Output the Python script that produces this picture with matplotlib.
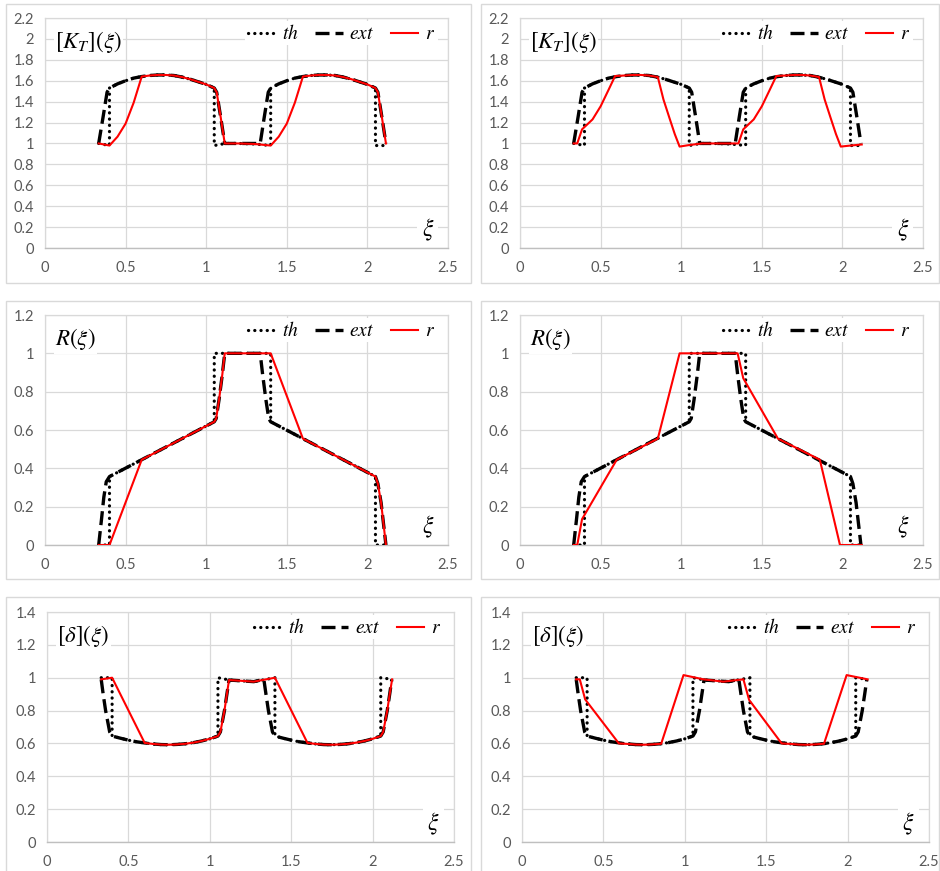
import matplotlib
matplotlib.use('Agg')
import matplotlib.pyplot as plt
from matplotlib.patches import Rectangle
from matplotlib.ticker import MultipleLocator, FuncFormatter

plt.rcParams['font.family'] = ['Lato', 'DejaVu Sans']
plt.rcParams['mathtext.fontset'] = 'stix'

# ---------------- data ----------------
hump1_x = [0.40, 0.45, 0.50, 0.55, 0.60, 0.65, 0.70, 0.75, 0.80, 0.85, 0.90, 0.95, 1.00, 1.05]
hump2_x = [1.40, 1.45, 1.50, 1.55, 1.60, 1.65, 1.70, 1.75, 1.80, 1.85, 1.90, 1.95, 2.00, 2.05]

# [K_T] plateau shape and [delta] valley shape shared by th / ext
kt_hump = [1.53, 1.57, 1.60, 1.625, 1.64, 1.65, 1.655, 1.655, 1.65, 1.635, 1.615, 1.59, 1.565, 1.53]
dl_valley = [0.645, 0.632, 0.62, 0.61, 0.603, 0.597, 0.593, 0.592, 0.594, 0.598, 0.605, 0.615, 0.628, 0.645]

# ---- [K_T](xi)
kt_th_x = [0.333, 0.40] + hump1_x + [1.05, 1.12, 1.20, 1.30, 1.40] + hump2_x + [2.05, 2.12]
kt_th_y = [1.00, 0.98] + kt_hump + [0.98, 1.00, 1.00, 0.995, 0.98] + kt_hump + [0.98, 0.98]

kt_ext_x = [0.333, 0.36, 0.385] + hump1_x + [1.065, 1.09, 1.115, 1.20, 1.30, 1.335, 1.36, 1.385] + hump2_x + [2.065, 2.09, 2.115]
kt_ext_y = [1.00, 1.25, 1.49] + kt_hump + [1.49, 1.25, 1.00, 1.00, 1.00, 1.00, 1.25, 1.49] + kt_hump + [1.49, 1.25, 1.00]

kt_r1_x = [0.333, 0.40, 0.45, 0.50, 0.55, 0.60, 0.65, 0.70, 0.75, 0.80, 0.85, 0.90, 0.95, 1.00, 1.05,
           1.065, 1.09, 1.115, 1.20, 1.30, 1.40, 1.45, 1.50, 1.55, 1.60, 1.65, 1.70, 1.75, 1.80, 1.85,
           1.90, 1.95, 2.00, 2.05, 2.065, 2.09, 2.115]
kt_r1_y = [1.00, 0.98, 1.065, 1.19, 1.39, 1.64, 1.65, 1.655, 1.655, 1.65, 1.635, 1.615, 1.59, 1.565, 1.53,
           1.49, 1.25, 1.00, 1.00, 0.995, 0.98, 1.065, 1.19, 1.39, 1.64, 1.65, 1.655, 1.655, 1.65, 1.635,
           1.615, 1.59, 1.565, 1.53, 1.49, 1.25, 1.00]

kt_r2_x = [0.333, 0.355, 0.385, 0.45, 0.50, 0.55, 0.59, 0.65, 0.70, 0.75, 0.80, 0.855, 0.89, 0.93, 0.96,
           0.99, 1.05, 1.13, 1.20, 1.30, 1.355, 1.385, 1.45, 1.50, 1.55, 1.59, 1.65, 1.70, 1.75, 1.80,
           1.855, 1.89, 1.93, 1.96, 1.99, 2.05, 2.12]
kt_r2_y = [1.00, 1.00, 1.135, 1.23, 1.355, 1.515, 1.645, 1.65, 1.655, 1.655, 1.65, 1.635, 1.42, 1.23, 1.09,
           0.97, 0.985, 1.00, 1.00, 1.00, 1.00, 1.135, 1.23, 1.355, 1.515, 1.645, 1.65, 1.655, 1.655, 1.65,
           1.635, 1.42, 1.23, 1.09, 0.97, 0.98, 0.99]

# ---- R(xi)
R_th_x = [0.333, 0.40, 0.40, 1.05, 1.05, 1.40, 1.40, 2.05, 2.05, 2.12]
R_th_y = [0.0, 0.0, 0.357, 0.643, 1.0, 1.0, 0.643, 0.357, 0.0, 0.0]

R_ext_x = [0.333, 0.35, 0.365, 0.38, 0.40, 1.05, 1.062, 1.08, 1.10, 1.115, 1.335, 1.35, 1.37, 1.388, 1.40,
           2.05, 2.065, 2.085, 2.115]
R_ext_y = [0.0, 0.13, 0.25, 0.33, 0.357, 0.643, 0.66, 0.76, 0.89, 1.0, 1.0, 0.89, 0.76, 0.66, 0.643,
           0.357, 0.32, 0.22, 0.0]

R_r1_x = [0.333, 0.40, 0.60, 1.05, 1.062, 1.08, 1.10, 1.115, 1.40, 1.60, 2.05, 2.065, 2.085, 2.115]
R_r1_y = [0.0, 0.0, 0.445, 0.643, 0.66, 0.76, 0.89, 1.0, 1.0, 0.555, 0.357, 0.32, 0.22, 0.0]

R_r2_x = [0.333, 0.355, 0.385, 0.60, 0.855, 0.99, 1.35, 1.385, 1.60, 1.86, 1.985, 2.12]
R_r2_y = [0.0, 0.0, 0.135, 0.445, 0.555, 1.0, 1.0, 0.87, 0.555, 0.445, 0.0, 0.0]

# ---- [delta](xi)
dl_th_x = [0.333, 0.40] + hump1_x + [1.05, 1.12, 1.27, 1.40] + hump2_x + [2.05, 2.12]
dl_th_y = [1.00, 1.00] + dl_valley + [1.00, 0.986, 0.976, 1.00] + dl_valley + [1.00, 0.99]

dl_ext_x = [0.333, 0.345, 0.36, 0.385] + hump1_x + [1.065, 1.09, 1.105, 1.118, 1.27, 1.332, 1.345, 1.36, 1.385] + hump2_x + [2.065, 2.09, 2.105, 2.118]
dl_ext_y = [0.99, 0.90, 0.80, 0.67] + dl_valley + [0.67, 0.80, 0.90, 0.986, 0.976, 0.99, 0.90, 0.80, 0.67] + dl_valley + [0.67, 0.80, 0.90, 0.99]

dl_r1_x = [0.333, 0.40, 0.60, 0.65, 0.70, 0.75, 0.80, 0.85, 0.90, 0.95, 1.00, 1.05, 1.065, 1.09, 1.105,
           1.118, 1.27, 1.40, 1.60, 1.65, 1.70, 1.75, 1.80, 1.85, 1.90, 1.95, 2.00, 2.05, 2.065, 2.09,
           2.105, 2.12]
dl_r1_y = [0.99, 1.00, 0.603, 0.597, 0.593, 0.592, 0.594, 0.598, 0.605, 0.615, 0.628, 0.645, 0.67, 0.80, 0.90,
           0.986, 0.976, 1.00, 0.603, 0.597, 0.593, 0.592, 0.594, 0.598, 0.605, 0.615, 0.628, 0.645, 0.67, 0.80,
           0.90, 0.99]

dl_r2_x = [0.333, 0.355, 0.388, 0.595, 0.65, 0.70, 0.75, 0.80, 0.855, 0.992, 1.115, 1.237, 1.36, 1.395,
           1.595, 1.65, 1.70, 1.75, 1.80, 1.855, 1.994, 2.123]
dl_r2_y = [0.99, 0.99, 0.868, 0.60, 0.597, 0.593, 0.592, 0.594, 0.598, 1.016, 0.99, 0.976, 0.99, 0.865,
           0.60, 0.597, 0.593, 0.592, 0.594, 0.598, 1.016, 0.99]

# ---------------- layout ----------------
W, H = 940, 871
fig = plt.figure(figsize=(W / 100, H / 100), dpi=100)
fig.patch.set_facecolor('white')


def px_axes(left, right, top, bottom):
    return fig.add_axes([left / W, 1 - bottom / H, (right - left) / W, (bottom - top) / H])


# chart-area borders (Excel style)
for (x0, y0, x1, y1) in [(6, 4, 471, 283), (481, 4, 939, 283),
                         (6, 301, 471, 579), (481, 301, 939, 579),
                         (6, 597, 471, 880), (481, 597, 939, 880)]:
    fig.patches.append(Rectangle((x0 / W, 1 - y1 / H), (x1 - x0) / W, (y1 - y0) / H,
                                 transform=fig.transFigure, fill=False,
                                 edgecolor='#d9d9d9', lw=1.0))

grid_c = '#d9d9d9'
tick_c = '#595959'


def panel(ax, th, ext, r, ymax, name):
    ax.plot(th[0], th[1], color='black', lw=2.3, linestyle=(0, (0.05, 1.9)),
            dash_capstyle='round', label='$th$', zorder=3)
    ax.plot(ext[0], ext[1], color='black', lw=2.4, linestyle=(0, (4.2, 1.8)),
            label='$ext$', zorder=4)
    ax.plot(r[0], r[1], color='#ff0000', lw=1.5, label='$r$', zorder=5)

    ax.set_xlim(0, 2.5)
    ax.set_ylim(0, ymax)
    ax.xaxis.set_major_locator(MultipleLocator(0.5))
    ax.yaxis.set_major_locator(MultipleLocator(0.2))
    fmt = FuncFormatter(lambda v, p: f'{round(v, 2):g}')
    ax.xaxis.set_major_formatter(fmt)
    ax.yaxis.set_major_formatter(fmt)
    ax.grid(True, color=grid_c, lw=0.9, zorder=0)
    ax.set_axisbelow(True)
    for s in ['top', 'right', 'left']:
        ax.spines[s].set_color(grid_c)
        ax.spines[s].set_linewidth(0.9)
    ax.spines['bottom'].set_color('#bfbfbf')
    ax.spines['bottom'].set_linewidth(1.0)
    ax.tick_params(length=0, labelsize=10.5, labelcolor=tick_c)
    ax.tick_params(axis='y', pad=8)
    ax.tick_params(axis='x', pad=9)

    ax.text(0.025, 0.895, name, transform=ax.transAxes, fontsize=16.5, ha='left', va='center',
            bbox=dict(facecolor='white', edgecolor='none', pad=1), zorder=6)
    ax.text(0.95, 0.08, r'$\xi$', transform=ax.transAxes, fontsize=17, ha='center', va='center',
            bbox=dict(facecolor='white', edgecolor='none', pad=3), zorder=6)
    leg = ax.legend(loc='center right', bbox_to_anchor=(0.975, 0.935), ncol=3, frameon=True,
                    fontsize=14, handlelength=1.4, handletextpad=0.35, columnspacing=0.85,
                    borderpad=0.15, borderaxespad=0)
    leg.get_frame().set_facecolor('white')
    leg.get_frame().set_edgecolor('none')
    leg.get_frame().set_alpha(1)
    leg.set_zorder(7)


panel(px_axes(45, 448, 18, 248), (kt_th_x, kt_th_y), (kt_ext_x, kt_ext_y), (kt_r1_x, kt_r1_y), 2.2, r'$[K_T](\xi)$')
panel(px_axes(520, 923, 18, 248), (kt_th_x, kt_th_y), (kt_ext_x, kt_ext_y), (kt_r2_x, kt_r2_y), 2.2, r'$[K_T](\xi)$')
panel(px_axes(45, 448, 315, 545), (R_th_x, R_th_y), (R_ext_x, R_ext_y), (R_r1_x, R_r1_y), 1.2, r'$R(\xi)$')
panel(px_axes(520, 923, 315, 545), (R_th_x, R_th_y), (R_ext_x, R_ext_y), (R_r2_x, R_r2_y), 1.2, r'$R(\xi)$')
panel(px_axes(47, 454, 612, 842), (dl_th_x, dl_th_y), (dl_ext_x, dl_ext_y), (dl_r1_x, dl_r1_y), 1.4, r'$[\delta](\xi)$')
panel(px_axes(522, 929, 612, 842), (dl_th_x, dl_th_y), (dl_ext_x, dl_ext_y), (dl_r2_x, dl_r2_y), 1.4, r'$[\delta](\xi)$')

fig.savefig('out.png', dpi=100, facecolor='white')
